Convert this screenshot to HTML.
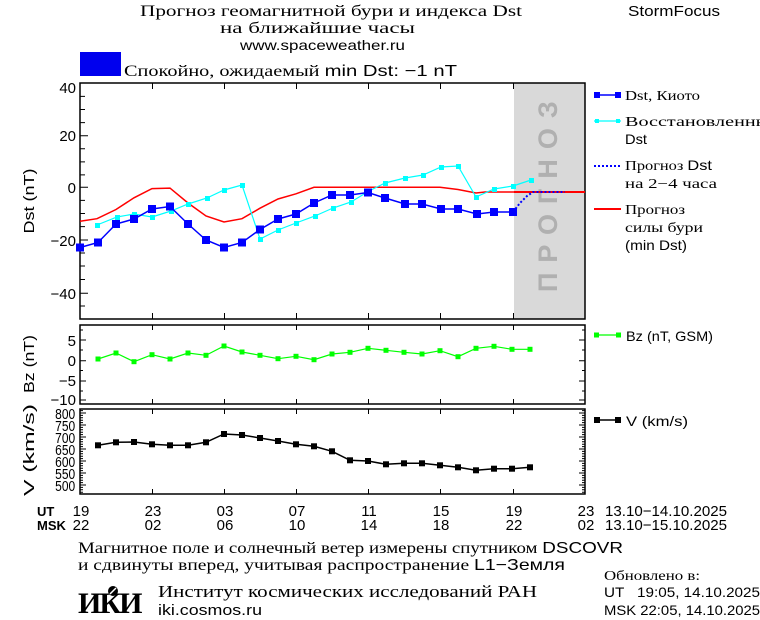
<!DOCTYPE html>
<html><head><meta charset="utf-8"><style>
html,body{margin:0;padding:0;background:#fff;}
svg{display:block;}
text{font-family:"Liberation Sans","DejaVu Sans",sans-serif;}
.s{font-family:"Liberation Serif","DejaVu Serif",serif;}
</style></head><body>
<svg width="760" height="620" viewBox="0 0 760 620" xmlns="http://www.w3.org/2000/svg">
<rect width="760" height="620" fill="#fff"/>
<!-- titles -->
<text x="140" y="16" class="s" font-size="16" textLength="382" lengthAdjust="spacingAndGlyphs">Прогноз геомагнитной бури и индекса Dst</text>
<text x="220" y="33" class="s" font-size="16" textLength="195" lengthAdjust="spacingAndGlyphs">на ближайшие часы</text>
<text x="240" y="50" font-size="14" textLength="165" lengthAdjust="spacingAndGlyphs">www.spaceweather.ru</text>
<text x="628" y="16" font-size="15" textLength="92" lengthAdjust="spacingAndGlyphs">StormFocus</text>
<rect x="80" y="52" width="41" height="24" fill="#0000ee"/>
<text x="124" y="76" class="s" font-size="16" textLength="333" lengthAdjust="spacingAndGlyphs">Спокойно, ожидаемый <tspan font-family="Liberation Sans">min Dst: −1 nT</tspan></text>

<!-- main panel -->
<rect x="514" y="83" width="71" height="236" fill="#d9d9d9"/>
<text transform="translate(557,292) rotate(-90)" font-size="27" font-weight="bold" fill="#b0b0b0" letter-spacing="10" font-family="Liberation Mono,monospace">ПРОГНОЗ</text>
<rect x="80" y="83" width="505" height="236" fill="none" stroke="#000" stroke-width="1.5"/>
<g stroke="#000" stroke-width="1">
<path d="M80 96.4h5M80 109.5h5M80 122.6h5M80 135.7h8M80 148.8h5M80 161.9h5M80 174.9h5M80 187.3h8M80 200.4h5M80 213.5h5M80 226.6h5M80 240h8M80 253h5M80 266h5M80 279.5h5M80 293.3h8M80 306h5"/>
<path d="M152.5 83v6M224.5 83v6M296.5 83v6M368.5 83v6M440.5 83v6M513.5 83v6M152.5 319v-6M224.5 319v-6M296.5 319v-6M368.5 319v-6M440.5 319v-6M513.5 319v-6"/>
</g>
<g font-size="15" text-anchor="end">
<text x="76" y="93">40</text><text x="76" y="141">20</text><text x="76" y="193">0</text><text x="76" y="246">−20</text><text x="76" y="299">−40</text>
</g>
<text transform="translate(34,201) rotate(-90)" font-size="15" text-anchor="middle" textLength="65" lengthAdjust="spacingAndGlyphs">Dst (nT)</text>

<!-- red -->
<polyline fill="none" stroke="#f00" stroke-width="1.5" points="80,221.3 97,218.7 116,209.5 134,197.8 152,188.6 170,188.1 188,203 206,216 224,222 242,218.7 260,208.2 278,199 296,193.8 314,187.3 440,187.3 458,189.5 476,193 485,192 585,192"/>
<line x1="514" y1="192" x2="585" y2="192" stroke="#f00" stroke-width="2"/>
<!-- cyan -->
<polyline fill="none" stroke="#0ff" stroke-width="1.2" points="97,225 117,217 134,214 152,217 171,211 188,204 207,198 224,190 242,185 260,239 278,230 296,223 315,216 333,208 351,202 369,191 385,183 405,178 423,175 441,167 458,166 476,197 494,189 513,186 531,180"/>
<g fill="#0ff">
<rect x="95" y="223" width="5" height="5"/><rect x="115" y="215" width="5" height="5"/><rect x="132" y="212" width="5" height="5"/><rect x="150" y="215" width="5" height="5"/><rect x="169" y="209" width="5" height="5"/><rect x="186" y="202" width="5" height="5"/><rect x="205" y="196" width="5" height="5"/><rect x="222" y="188" width="5" height="5"/><rect x="240" y="183" width="5" height="5"/><rect x="258" y="237" width="5" height="5"/><rect x="276" y="228" width="5" height="5"/><rect x="294" y="221" width="5" height="5"/><rect x="313" y="214" width="5" height="5"/><rect x="331" y="206" width="5" height="5"/><rect x="349" y="200" width="5" height="5"/><rect x="367" y="189" width="5" height="5"/><rect x="383" y="181" width="5" height="5"/><rect x="403" y="176" width="5" height="5"/><rect x="421" y="173" width="5" height="5"/><rect x="439" y="165" width="5" height="5"/><rect x="456" y="164" width="5" height="5"/><rect x="474" y="195" width="5" height="5"/><rect x="492" y="187" width="5" height="5"/><rect x="511" y="184" width="5" height="5"/><rect x="529" y="178" width="5" height="5"/>
</g>
<!-- blue -->
<polyline fill="none" stroke="#00f" stroke-width="1.5" points="80,247.5 98,242.5 116,224 134,219 152,209 170,206.5 188,224 206,240 224,247.5 242,242.5 260,229.5 278,219 296,214 314,203 332,195 350,195 368,192.5 385,198 405,204 422,204 441,209 458,209 477,214 494,212 513,212"/>
<polyline fill="none" stroke="#00f" stroke-width="2" stroke-dasharray="2,2" points="513,212 520,203 527,196 533,192 565,192"/>
<g fill="#00f">
<rect x="76" y="243.5" width="8" height="8"/><rect x="94" y="238.5" width="8" height="8"/><rect x="112" y="220" width="8" height="8"/><rect x="130" y="215" width="8" height="8"/><rect x="148" y="205" width="8" height="8"/><rect x="166" y="202.5" width="8" height="8"/><rect x="184" y="220" width="8" height="8"/><rect x="202" y="236" width="8" height="8"/><rect x="220" y="243.5" width="8" height="8"/><rect x="238" y="238.5" width="8" height="8"/><rect x="256" y="225.5" width="8" height="8"/><rect x="274" y="215" width="8" height="8"/><rect x="292" y="210" width="8" height="8"/><rect x="310" y="199" width="8" height="8"/><rect x="328" y="191" width="8" height="8"/><rect x="346" y="191" width="8" height="8"/><rect x="364" y="188.5" width="8" height="8"/><rect x="381" y="194" width="8" height="8"/><rect x="401" y="200" width="8" height="8"/><rect x="418" y="200" width="8" height="8"/><rect x="437" y="205" width="8" height="8"/><rect x="454" y="205" width="8" height="8"/><rect x="473" y="210" width="8" height="8"/><rect x="490" y="208" width="8" height="8"/><rect x="509" y="208" width="8" height="8"/>
</g>

<!-- legend main -->
<line x1="594" y1="95" x2="621" y2="95" stroke="#00f" stroke-width="1.5"/>
<rect x="594" y="92" width="6" height="6" fill="#00f"/><rect x="615" y="92" width="6" height="6" fill="#00f"/>
<text x="625" y="100" class="s" font-size="14" textLength="75" lengthAdjust="spacingAndGlyphs">Dst, Киото</text>
<line x1="594" y1="121" x2="621" y2="121" stroke="#0ff" stroke-width="1.2"/>
<rect x="595" y="119" width="4" height="4" fill="#0ff"/><rect x="616" y="119" width="4" height="4" fill="#0ff"/>
<text x="625" y="126" class="s" font-size="14" textLength="155" lengthAdjust="spacingAndGlyphs">Восстановленный</text>
<text x="625" y="144" font-size="14" textLength="22" lengthAdjust="spacingAndGlyphs">Dst</text>
<line x1="594" y1="166" x2="621" y2="166" stroke="#00f" stroke-width="2" stroke-dasharray="2,2"/>
<text x="625" y="170" class="s" font-size="14" textLength="87" lengthAdjust="spacingAndGlyphs">Прогноз <tspan font-family="Liberation Sans">Dst</tspan></text>
<text x="625" y="188" class="s" font-size="14" textLength="92" lengthAdjust="spacingAndGlyphs">на 2−4 часа</text>
<line x1="594" y1="209" x2="621" y2="209" stroke="#f00" stroke-width="2"/>
<text x="625" y="214" class="s" font-size="14" textLength="60" lengthAdjust="spacingAndGlyphs">Прогноз</text>
<text x="625" y="232" class="s" font-size="14" textLength="78" lengthAdjust="spacingAndGlyphs">силы бури</text>
<text x="625" y="250" font-size="14" textLength="62" lengthAdjust="spacingAndGlyphs">(min Dst)</text>

<!-- Bz panel -->
<rect x="80" y="325" width="505" height="79" fill="none" stroke="#000" stroke-width="1.5"/>
<g stroke="#000" stroke-width="1">
<path d="M80 340h6M80 360.7h6M80 381h6M80 400h6M585 340h-6M585 360.7h-6M585 381h-6M585 400h-6"/>
<path d="M80 330h3M80 350h3M80 370.5h3M80 391h3M585 330h-3M585 350h-3M585 370.5h-3M585 391h-3"/>
<path d="M152.5 325v5M224.5 325v5M296.5 325v5M368.5 325v5M440.5 325v5M513.5 325v5M152.5 404v-5M224.5 404v-5M296.5 404v-5M368.5 404v-5M440.5 404v-5M513.5 404v-5"/>
</g>
<g font-size="15" text-anchor="end">
<text x="76" y="346">5</text><text x="76" y="366">0</text><text x="76" y="386">−5</text><text x="76" y="405">−10</text>
</g>
<text transform="translate(34,364) rotate(-90)" font-size="15" text-anchor="middle" textLength="58" lengthAdjust="spacingAndGlyphs">Bz (nT)</text>
<polyline fill="none" stroke="#0f0" stroke-width="1.2" points="98,359 116,353 134,361.7 152,354.7 170,359 188,353 206,355.3 224,346 242,352 260,355.3 278,358.7 296,356.3 314,359.7 332,354 350,352.3 368,348.3 386,350.3 404,352.3 422,354 440,350.7 458,356.7 476,348.3 494,346.3 512,349.3 530,349.3"/>
<g fill="#0f0">
<rect x="95.5" y="356.5" width="5" height="5"/><rect x="113.5" y="350.5" width="5" height="5"/><rect x="131.5" y="359.2" width="5" height="5"/><rect x="149.5" y="352.2" width="5" height="5"/><rect x="167.5" y="356.5" width="5" height="5"/><rect x="185.5" y="350.5" width="5" height="5"/><rect x="203.5" y="352.8" width="5" height="5"/><rect x="221.5" y="343.5" width="5" height="5"/><rect x="239.5" y="349.5" width="5" height="5"/><rect x="257.5" y="352.8" width="5" height="5"/><rect x="275.5" y="356.2" width="5" height="5"/><rect x="293.5" y="353.8" width="5" height="5"/><rect x="311.5" y="357.2" width="5" height="5"/><rect x="329.5" y="351.5" width="5" height="5"/><rect x="347.5" y="349.8" width="5" height="5"/><rect x="365.5" y="345.8" width="5" height="5"/><rect x="383.5" y="347.8" width="5" height="5"/><rect x="401.5" y="349.8" width="5" height="5"/><rect x="419.5" y="351.5" width="5" height="5"/><rect x="437.5" y="348.2" width="5" height="5"/><rect x="455.5" y="354.2" width="5" height="5"/><rect x="473.5" y="345.8" width="5" height="5"/><rect x="491.5" y="343.8" width="5" height="5"/><rect x="509.5" y="346.8" width="5" height="5"/><rect x="527.5" y="346.8" width="5" height="5"/>
</g>
<line x1="594" y1="335" x2="621" y2="335" stroke="#0f0" stroke-width="1.2"/>
<rect x="594" y="332.5" width="5" height="5" fill="#0f0"/><rect x="616" y="332.5" width="5" height="5" fill="#0f0"/>
<text x="626" y="341" font-size="14" textLength="87" lengthAdjust="spacingAndGlyphs">Bz (nT, GSM)</text>

<!-- V panel -->
<rect x="80" y="409" width="505" height="85" fill="none" stroke="#000" stroke-width="1.5"/>
<g stroke="#000" stroke-width="1">
<path d="M80 413h6M80 425h6M80 437h6M80 449h6M80 461h6M80 473h6M80 485h6M585 413h-6M585 425h-6M585 437h-6M585 449h-6M585 461h-6M585 473h-6M585 485h-6"/>
<path d="M80 415.4h3M80 417.8h3M80 420.2h3M80 422.6h3M80 427.4h3M80 429.8h3M80 432.2h3M80 434.6h3M80 439.4h3M80 441.8h3M80 444.2h3M80 446.6h3M80 451.4h3M80 453.8h3M80 456.2h3M80 458.6h3M80 463.4h3M80 465.8h3M80 468.2h3M80 470.6h3M80 475.4h3M80 477.8h3M80 480.2h3M80 482.6h3M80 487.4h3M80 489.8h3M80 492.2h3M80 410.6h3"/>
<path d="M585 415.4h-3M585 417.8h-3M585 420.2h-3M585 422.6h-3M585 427.4h-3M585 429.8h-3M585 432.2h-3M585 434.6h-3M585 439.4h-3M585 441.8h-3M585 444.2h-3M585 446.6h-3M585 451.4h-3M585 453.8h-3M585 456.2h-3M585 458.6h-3M585 463.4h-3M585 465.8h-3M585 468.2h-3M585 470.6h-3M585 475.4h-3M585 477.8h-3M585 480.2h-3M585 482.6h-3M585 487.4h-3M585 489.8h-3M585 492.2h-3M585 410.6h-3"/>
<path d="M152.5 409v5M224.5 409v5M296.5 409v5M368.5 409v5M440.5 409v5M513.5 409v5M152.5 494v-5M224.5 494v-5M296.5 494v-5M368.5 494v-5M440.5 494v-5M513.5 494v-5"/>
</g>
<g font-size="15" text-anchor="end" transform="scale(0.8,1)">
<text x="94" y="419">800</text><text x="94" y="431">750</text><text x="94" y="443">700</text><text x="94" y="455">650</text><text x="94" y="467">600</text><text x="94" y="479">550</text><text x="94" y="491">500</text>
</g>
<text transform="translate(34,450) rotate(-90)" font-size="15" text-anchor="middle" textLength="92" lengthAdjust="spacingAndGlyphs">V (km/s)</text>
<polyline fill="none" stroke="#000" stroke-width="1.5" points="98,445.3 116,442.3 134,442 152,444.3 170,445.3 188,445.3 206,442.3 224,434 242,435 260,438 278,441 296,444.3 314,446.3 332,451.3 350,460.3 368,461 386,464.3 404,463.3 422,463.3 440,465.3 458,467.3 476,470.3 494,468.7 512,468.7 530,467.3"/>
<g fill="#000">
<rect x="95" y="442.3" width="6" height="6"/><rect x="113" y="439.3" width="6" height="6"/><rect x="131" y="439" width="6" height="6"/><rect x="149" y="441.3" width="6" height="6"/><rect x="167" y="442.3" width="6" height="6"/><rect x="185" y="442.3" width="6" height="6"/><rect x="203" y="439.3" width="6" height="6"/><rect x="221" y="431" width="6" height="6"/><rect x="239" y="432" width="6" height="6"/><rect x="257" y="435" width="6" height="6"/><rect x="275" y="438" width="6" height="6"/><rect x="293" y="441.3" width="6" height="6"/><rect x="311" y="443.3" width="6" height="6"/><rect x="329" y="448.3" width="6" height="6"/><rect x="347" y="457.3" width="6" height="6"/><rect x="365" y="458" width="6" height="6"/><rect x="383" y="461.3" width="6" height="6"/><rect x="401" y="460.3" width="6" height="6"/><rect x="419" y="460.3" width="6" height="6"/><rect x="437" y="462.3" width="6" height="6"/><rect x="455" y="464.3" width="6" height="6"/><rect x="473" y="467.3" width="6" height="6"/><rect x="491" y="465.7" width="6" height="6"/><rect x="509" y="465.7" width="6" height="6"/><rect x="527" y="464.3" width="6" height="6"/>
</g>
<line x1="594" y1="420" x2="621" y2="420" stroke="#000" stroke-width="1.5"/>
<rect x="594" y="417" width="6" height="6"/><rect x="615" y="417" width="6" height="6"/>
<text x="626" y="426" font-size="14" textLength="62" lengthAdjust="spacingAndGlyphs">V (km/s)</text>

<!-- time axis labels -->
<text x="37" y="516" font-size="13" font-weight="bold">UT</text>
<text x="37" y="530" font-size="13" font-weight="bold">MSK</text>
<g font-size="15" text-anchor="middle">
<text x="81" y="516">19</text><text x="153" y="516">23</text><text x="225" y="516">03</text><text x="297" y="516">07</text><text x="369" y="516">11</text><text x="441" y="516">15</text><text x="514" y="516">19</text><text x="586" y="516">23</text>
<text x="81" y="530">22</text><text x="153" y="530">02</text><text x="225" y="530">06</text><text x="297" y="530">10</text><text x="369" y="530">14</text><text x="441" y="530">18</text><text x="514" y="530">22</text><text x="586" y="530">02</text>
</g>
<text x="605" y="516" font-size="15" textLength="122" lengthAdjust="spacingAndGlyphs">13.10−14.10.2025</text>
<text x="605" y="530" font-size="15" textLength="122" lengthAdjust="spacingAndGlyphs">13.10−15.10.2025</text>

<!-- bottom text -->
<text x="78" y="553" class="s" font-size="16" textLength="545" lengthAdjust="spacingAndGlyphs">Магнитное поле и солнечный ветер измерены спутником <tspan font-family="Liberation Sans">DSCOVR</tspan></text>
<text x="78" y="570" class="s" font-size="16" textLength="487" lengthAdjust="spacingAndGlyphs">и сдвинуты вперед, учитывая распространение <tspan font-family="Liberation Sans">L1−Земля</tspan></text>
<text x="78" y="613" class="s" font-size="30" font-weight="bold" letter-spacing="-2">ИКИ</text>
<circle cx="113" cy="591" r="5" fill="#000"/><line x1="110" y1="594" x2="116" y2="588" stroke="#fff" stroke-width="1.5"/>
<text x="158" y="597" class="s" font-size="17" textLength="379" lengthAdjust="spacingAndGlyphs">Институт космических исследований РАН</text>
<text x="158" y="615" font-size="15" textLength="104" lengthAdjust="spacingAndGlyphs">iki.cosmos.ru</text>
<text x="604" y="580" class="s" font-size="14" textLength="96" lengthAdjust="spacingAndGlyphs">Обновлено в:</text>
<text x="604" y="597" font-size="14" textLength="156" lengthAdjust="spacingAndGlyphs">UT&#160;&#160;&#160;19:05, 14.10.2025</text>
<text x="604" y="615" font-size="14" textLength="156" lengthAdjust="spacingAndGlyphs">MSK 22:05, 14.10.2025</text>
</svg>
</body></html>
